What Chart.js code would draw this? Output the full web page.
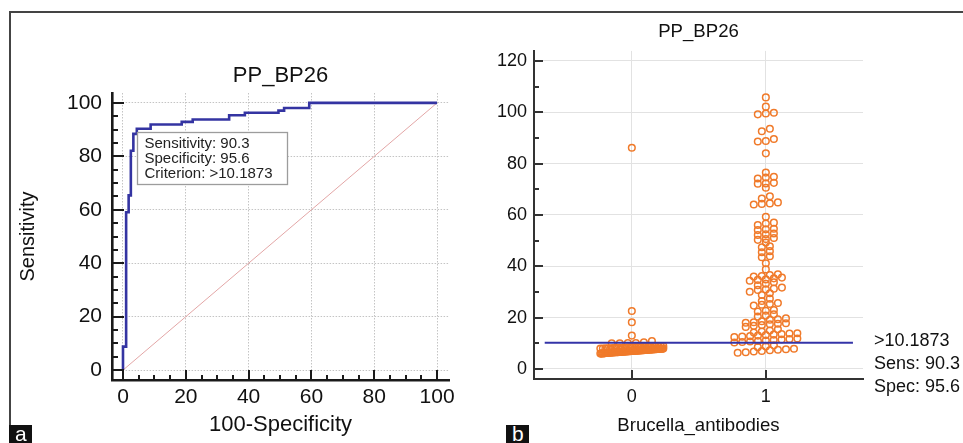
<!DOCTYPE html>
<html><head><meta charset="utf-8">
<script src="https://cdn.jsdelivr.net/npm/chart.js@4/dist/chart.umd.min.js"></script>
<style>
html,body{margin:0;padding:0;background:#fff;}
#wrap{position:relative;width:963px;height:443px;overflow:hidden;background:#fff;}
canvas{position:absolute;top:0;}
#c1{left:0;}
#c2{left:480px;}
.frameTop{position:absolute;left:9px;top:11px;width:954px;height:2px;background:#444;}
.frameLeft{position:absolute;left:9px;top:11px;width:2px;height:432px;background:#444;}
.tag{position:absolute;top:425px;width:23px;height:18px;background:#111;overflow:hidden;}
.tag span{position:absolute;left:6px;top:-3px;color:#fff;font:21px/24px "Liberation Sans",Arial,sans-serif;}
</style></head>
<body><div id="wrap">
<canvas id="c1" width="480" height="443"></canvas>
<canvas id="c2" width="483" height="443"></canvas>
<div class="frameTop"></div><div class="frameLeft"></div>
<div class="tag" style="left:9px"><span>a</span></div>
<div class="tag" style="left:506px"><span>b</span></div>
</div>
<script>
// ---------------- data ----------------
const chartTitle = 'PP_BP26';
const rocFpr = [0, 0, 1.0, 1.8, 2.5, 3.3, 4.4, 8.8, 18.7, 22.2, 33.8, 38.8, 49.5, 51.3, 59.3, 100];
const rocTpr = [0, 8.8, 59.1, 65.4, 82.1, 88.4, 90.3, 91.9, 92.9, 93.8, 95.4, 96.3, 97.1, 98.1, 100, 100];
const refLine = [0, 100];
const rocTicks = [0, 20, 40, 60, 80, 100];
const dotYTicks = [0, 20, 40, 60, 80, 100, 120];
const categories = ['0', '1'];
const criterion = 10.1873;
const sensitivity = 90.3;
const specificity = 95.6;

const group0 = [
  6.0, 6.0, 6.1, 6.1, 6.1, 6.2, 6.2, 6.2, 6.3, 6.3, 6.3, 6.4, 6.4, 6.4, 6.5, 6.5, 6.5, 6.5,
  6.6, 6.6, 6.6, 6.7, 6.7, 6.7, 6.8, 6.8, 6.8, 6.9, 6.9, 6.9, 7.0, 7.0, 7.0, 7.0, 7.1, 7.1,
  7.1, 7.2, 7.2, 7.2, 7.3, 7.3, 7.3, 7.4, 7.4, 7.4, 7.5, 7.5, 7.5, 7.6, 7.6, 7.6, 7.7, 7.7,
  7.7, 7.8, 7.8, 7.8, 7.9, 7.9, 7.9, 7.95,
  8.0, 8.0, 8.1, 8.1, 8.1, 8.2, 8.2, 8.2, 8.3, 8.3, 8.3, 8.4, 8.4, 8.4, 8.5, 8.5, 8.5,
  8.6, 8.6, 8.6, 8.7, 8.7, 8.8, 8.8, 8.9, 8.9,
  10.0, 10.05, 10.1, 10.15, 10.4, 10.9,
  13.0, 18.2, 22.6, 86.2
];
const group1 = [
  105.8, 102.2, 99.2, 99.5, 99.8, 92.6, 93.6, 88.6, 88.8, 89.6, 84.0,
  76.5, 74.2, 74.6, 74.9, 72.2, 72.3, 72.5, 70.6, 66.4, 67.3, 64.1, 64.3, 64.5, 64.9,
  59.3, 56.1, 56.7, 57.0, 54.1, 54.4, 54.6, 52.2, 52.5, 52.8, 50.3, 50.6, 51.0, 49.3,
  47.4, 47.8, 45.5, 45.9, 43.5, 43.9, 41.2, 38.8, 36.0, 36.2, 36.6, 36.9,
  34.4, 34.7, 34.9, 35.3, 35.6, 32.6, 33.2, 33.8, 30.1, 30.8, 31.0, 31.3, 31.7,
  28.8, 29.5, 26.5, 27.4, 24.7, 25.0, 25.3, 25.7, 22.4, 22.7, 23.0, 20.4, 20.8, 21.3,
  18.0, 18.2, 18.6, 19.2, 19.4, 19.7, 16.4, 16.8, 17.1, 17.4, 17.6, 17.8,
  14.2, 14.6, 15.0, 15.5, 12.4, 12.6, 12.8, 13.0, 13.2, 13.4, 13.6, 13.8, 13.9,
  10.3, 10.5, 10.7, 10.9, 11.1, 11.3, 11.5, 11.7, 11.9, 8.5, 8.8, 9.2,
  6.3, 6.5, 6.8, 7.0, 7.3, 7.5, 7.7, 7.9
];

// ---------------- layout helpers ----------------
const FONT = '"Liberation Sans", Arial, sans-serif';
Chart.defaults.font.family = FONT;
Chart.defaults.color = '#111';

// dot-plot layout: values binned, spread side by side within a bin
function swarm(values, center, binW, step, maxHalf) {
  const bins = new Map();
  values.forEach(v => {
    const k = Math.floor(v / binW + 1e-9);
    if (!bins.has(k)) bins.set(k, []);
    bins.get(k).push(v);
  });
  const pts = [];
  [...bins.keys()].sort((a, b) => a - b).forEach(k => {
    const vs = bins.get(k).slice().sort((a, b) => a - b);
    const n = vs.length;
    const s = n > 1 ? Math.min(step, 2 * maxHalf / (n - 1)) : 0;
    vs.forEach((v, i) => pts.push({x: center + (i - (n - 1) / 2) * s, y: v}));
  });
  return pts;
}
function range(a, b, s) { const r = []; for (let v = a; v <= b + 1e-9; v += s) r.push(v); return r; }

function drawInwardTicks(chart, o) {
  const ctx = chart.ctx, a = chart.chartArea, x = chart.scales.x, y = chart.scales.y;
  ctx.save();
  ctx.strokeStyle = o.color; ctx.lineWidth = o.width; ctx.lineCap = 'butt'; ctx.setLineDash([]);
  const ln = (x1, y1, x2, y2) => { ctx.beginPath(); ctx.moveTo(x1, y1); ctx.lineTo(x2, y2); ctx.stroke(); };
  for (const v of o.yMinor) { const p = Math.round(y.getPixelForValue(v)); ln(a.left, p, a.left + o.yMinorLen, p); }
  for (const v of o.yMajor) { const p = Math.round(y.getPixelForValue(v)); ln(a.left, p, a.left + o.yMajorLen, p); }
  for (const v of o.xMinor) { const p = Math.round(x.getPixelForValue(v)); ln(p, a.bottom, p, a.bottom - o.xMinorLen); }
  for (const v of o.xMajor) { const p = Math.round(x.getPixelForValue(v)); ln(p, a.bottom, p, a.bottom - o.xMajorLen); }
  ctx.restore();
}

function fixScale(w, h) {
  return s => {
    if (w !== null) s.width = w;
    if (h !== null) s.height = h;
    s.paddingLeft = 0; s.paddingRight = 0; s.paddingTop = 0; s.paddingBottom = 0;
  };
}

// ---------------- ROC chart ----------------
const rocTickSpec = {color: '#1a1a1a', width: 2, yMajor: rocTicks, yMinor: range(0, 100, 5),
  yMajorLen: 12, yMinorLen: 6, xMajor: rocTicks, xMinor: range(0, 100, 5), xMajorLen: 10, xMinorLen: 5};
const rocExtras = {
  id: 'rocExtras',
  afterDatasetsDraw(chart) {
    drawInwardTicks(chart, rocTickSpec);
    const {ctx, scales: {x, y}} = chart;
    const bx = Math.round(x.getPixelForValue(100 - specificity)) + 0.5;
    const by = Math.round(y.getPixelForValue(sensitivity)) + 3.5;
    const w = 150, h = 52;
    ctx.save();
    ctx.fillStyle = '#fff'; ctx.fillRect(bx, by, w, h);
    ctx.strokeStyle = '#9c9c9c'; ctx.lineWidth = 1.3; ctx.strokeRect(bx, by, w, h);
    ctx.fillStyle = '#222'; ctx.font = '15px ' + FONT; ctx.textBaseline = 'middle';
    const lines = ['Sensitivity: ' + sensitivity.toFixed(1), 'Specificity: ' + specificity.toFixed(1), 'Criterion: >' + criterion];
    lines.forEach((t, i) => ctx.fillText(t, bx + 7, by + 11 + i * 15.2));
    ctx.restore();
  }
};

new Chart(document.getElementById('c1'), {
  type: 'scatter',
  data: {
    datasets: [
      {data: rocFpr.map((v, i) => ({x: v, y: rocTpr[i]})), showLine: true, stepped: true,
       borderColor: '#3434a2', borderWidth: 2.6, pointRadius: 0, fill: false},
      {data: refLine.map(v => ({x: v, y: v})), showLine: true,
       borderColor: '#e3a6a6', borderWidth: 1, pointRadius: 0, fill: false}
    ]
  },
  options: {
    responsive: false, animation: false, devicePixelRatio: 1,
    layout: {padding: {left: 0, right: 31, top: 0, bottom: 0}},
    plugins: {
      legend: {display: false}, tooltip: {enabled: false},
      title: {display: true, text: chartTitle, fullSize: false, color: '#111',
              font: {size: 22, weight: 'normal'}, padding: {top: 62.8, bottom: 3.8}}
    },
    scales: {
      x: {type: 'linear', min: -3.5, max: 103.8,
          afterBuildTicks: s => { s.ticks = rocTicks.map(v => ({value: v})); },
          afterFit: fixScale(null, 63),
          ticks: {autoSkip: false, maxRotation: 0, padding: 4.4, font: {size: 21}, color: '#111'},
          grid: {drawTicks: false, color: '#c4c4c4', lineWidth: 1},
          border: {color: '#1a1a1a', width: 2.6, dash: [1.5, 1.5]},
          title: {display: true, text: '100-Specificity', font: {size: 22}, color: '#111', padding: {top: 0, bottom: 4.8}}},
      y: {type: 'linear', min: -3.7, max: 103.7,
          afterBuildTicks: s => { s.ticks = rocTicks.map(v => ({value: v})); },
          afterFit: fixScale(112, null),
          ticks: {autoSkip: false, padding: 10, font: {size: 21}, color: '#111'},
          grid: {drawTicks: false, color: '#c4c4c4', lineWidth: 1},
          border: {color: '#1a1a1a', width: 2.6, dash: [1.5, 1.5]},
          title: {display: true, text: 'Sensitivity', font: {size: 20}, color: '#111', padding: {top: 16, bottom: 0}}}
    }
  },
  plugins: [rocExtras]
});

// ---------------- Dot plot ----------------
const critSpan = [-0.65, 1.65];
const dotTickSpec = {color: '#333', width: 2, yMajor: dotYTicks, yMinor: range(10, 110, 20),
  yMajorLen: 9, yMinorLen: 5, xMajor: [0, 1], xMinor: [], xMajorLen: 9, xMinorLen: 0};
const dotExtras = {
  id: 'dotExtras',
  afterDatasetsDraw(chart) {
    drawInwardTicks(chart, dotTickSpec);
    const {ctx, scales: {x, y}} = chart;
    const px = x.getPixelForValue(critSpan[1]) + 21;
    const py = y.getPixelForValue(criterion) - 2;
    ctx.save();
    ctx.fillStyle = '#111'; ctx.font = '18px ' + FONT; ctx.textBaseline = 'middle';
    ctx.fillText('>' + criterion, px, py);
    ctx.fillText('Sens: ' + sensitivity.toFixed(1), px, py + 23);
    ctx.fillText('Spec: ' + specificity.toFixed(1), px, py + 46);
    ctx.restore();
  }
};

const dotStep = 0.06, dotMaxHalf = 0.235, dotBin = 2;
const pointStyle = {showLine: false, pointRadius: 3.3, pointBorderWidth: 1.5,
  pointBorderColor: '#f07a2a', pointBackgroundColor: 'rgba(255,255,255,0)', pointHoverRadius: 3.3};

new Chart(document.getElementById('c2'), {
  type: 'scatter',
  data: {
    datasets: [
      {data: critSpan.map(v => ({x: v, y: criterion})), showLine: true, borderColor: '#3434a8',
       borderWidth: 2, pointRadius: 0, fill: false},
      Object.assign({data: swarm(group1, 1, dotBin, dotStep, dotMaxHalf)}, pointStyle),
      Object.assign({data: swarm(group0, 0, dotBin, dotStep, dotMaxHalf)}, pointStyle)
    ]
  },
  options: {
    responsive: false, animation: false, devicePixelRatio: 1,
    layout: {padding: {left: 0, right: 100, top: 0, bottom: 0}},
    plugins: {
      legend: {display: false}, tooltip: {enabled: false},
      title: {display: true, text: chartTitle, fullSize: false, color: '#111',
              font: {size: 18.6, weight: 'normal'}, padding: {top: 20.8, bottom: 7.8}}
    },
    scales: {
      x: {type: 'linear', min: -0.73, max: 1.725,
          afterBuildTicks: s => { s.ticks = categories.map((c, i) => ({value: i})); },
          afterFit: fixScale(null, 64),
          ticks: {autoSkip: false, maxRotation: 0, padding: 7.2, font: {size: 18}, color: '#111',
                  callback: v => categories[v]},
          grid: {drawTicks: false, color: '#e2e2e2', lineWidth: 1},
          border: {color: '#333', width: 2},
          title: {display: true, text: 'Brucella_antibodies', font: {size: 18.6}, color: '#111', padding: {top: 0, bottom: 5.8}}},
      y: {type: 'linear', min: -3.9, max: 123.9,
          afterBuildTicks: s => { s.ticks = dotYTicks.map(v => ({value: v})); },
          afterFit: fixScale(54, null),
          ticks: {autoSkip: false, padding: 7, font: {size: 18}, color: '#111'},
          grid: {drawTicks: false, color: '#e2e2e2', lineWidth: 1},
          border: {color: '#333', width: 2}}
    }
  },
  plugins: [dotExtras]
});
</script>
</body></html>
